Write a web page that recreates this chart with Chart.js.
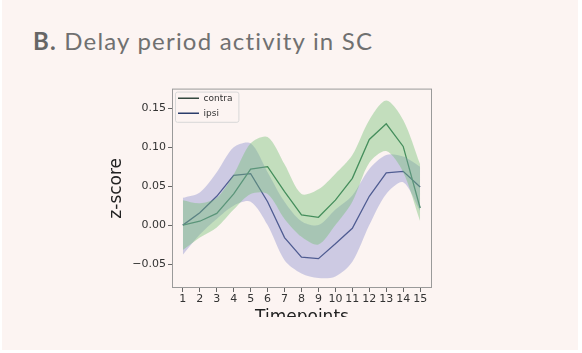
<!DOCTYPE html>
<html>
<head>
<meta charset="utf-8">
<script src="https://cdn.jsdelivr.net/npm/chart.js@4"></script>
<style>
  html, body { margin: 0; padding: 0; background: #ffffff; }
  #panel { position: absolute; left: 2px; top: 0; width: 576px; height: 350px; background: #fcf4f2; overflow: hidden; }
  #title { position: absolute; left: 31px; top: 26px; font-family: Lato, sans-serif; font-size: 24px; letter-spacing: 1.2px; color: #707070; white-space: nowrap; }
  #title b { font-weight: 700; color: #666; }
  #wrap { position: absolute; left: 98px; top: 80px; width: 345px; height: 237px; overflow: hidden; }
</style>
</head>
<body>
<div id="panel">
  <div id="title"><b>B.</b> Delay period activity in SC</div>
  <div id="wrap"><canvas id="chart" width="345" height="252"></canvas></div>
</div>
<script>
// timepoints 1..15
const timepoints = [1, 2, 3, 4, 5, 6, 7, 8, 9, 10, 11, 12, 13, 14, 15];
const yTicks = [-0.05, 0, 0.05, 0.10, 0.15];

// mean z-score per timepoint
const contraMean = [0.000, 0.005, 0.015, 0.040, 0.072, 0.075, 0.043, 0.013, 0.010, 0.032, 0.060, 0.110, 0.130, 0.101, 0.022];
const ipsiMean   = [0.000, 0.016, 0.037, 0.064, 0.066, 0.030, -0.016, -0.041, -0.043, -0.024, -0.004, 0.037, 0.067, 0.069, 0.049];

// shaded error bands
const contraUpper = [0.032, 0.028, 0.035, 0.065, 0.105, 0.113, 0.078, 0.040, 0.046, 0.066, 0.090, 0.135, 0.160, 0.135, 0.078];
const contraLower = [-0.032, -0.016, -0.003, 0.020, 0.040, 0.040, 0.008, -0.015, -0.025, 0.000, 0.030, 0.080, 0.095, 0.068, 0.005];
const ipsiUpper   = [0.035, 0.042, 0.068, 0.100, 0.105, 0.068, 0.030, 0.005, 0.000, 0.020, 0.038, 0.072, 0.090, 0.088, 0.075];
const ipsiLower   = [-0.038, -0.012, 0.008, 0.025, 0.030, 0.000, -0.045, -0.062, -0.068, -0.066, -0.047, 0.000, 0.040, 0.055, 0.018];

const contraLine = '#2a6e50', ipsiLine = '#2b3d6b';
const contraFill = 'rgba(110,190,110,0.4)', ipsiFill = 'rgba(135,140,205,0.4)';

const pts = arr => arr.map((v, i) => ({ x: timepoints[i], y: v }));

// frame all four sides like matplotlib spines + box round the legend
const framePlugin = {
    id: 'frame',
    afterDraw(c) {
        const a = c.chartArea, ctx = c.ctx;
        ctx.save();
        ctx.strokeStyle = '#9a9a9a';
        ctx.lineWidth = 1;
        ctx.strokeRect(a.left + 0.5, a.top + 0.5, a.right - a.left - 1, a.bottom - a.top - 1);
        const hb = c.legend && c.legend.legendHitBoxes;
        if (hb && hb.length) {
            const x0 = a.left + 3, y0 = a.top + 3;
            let x1 = 0, y1 = 0;
            hb.forEach(h => { x1 = Math.max(x1, h.left + h.width); y1 = Math.max(y1, h.top + h.height); });
            ctx.strokeStyle = '#d8d8d8';
            ctx.beginPath();
            ctx.roundRect(x0 + 0.5, y0 + 0.5, x1 - x0 + 6, y1 - y0 + 4, 2);
            ctx.stroke();
        }
        ctx.restore();
    }
};

chart = new Chart(document.getElementById('chart'), {
    type: 'line',
    data: {
        datasets: [
            { label: 'contraLo', data: pts(contraLower), borderWidth: 0, pointRadius: 0, fill: false, tension: 0.3 },
            { label: 'contraHi', data: pts(contraUpper), borderWidth: 0, pointRadius: 0, fill: '-1', backgroundColor: contraFill, tension: 0.3 },
            { label: 'ipsiLo', data: pts(ipsiLower), borderWidth: 0, pointRadius: 0, fill: false, tension: 0.3 },
            { label: 'ipsiHi', data: pts(ipsiUpper), borderWidth: 0, pointRadius: 0, fill: '-1', backgroundColor: ipsiFill, tension: 0.3 },
            { label: 'contra', data: pts(contraMean), borderColor: contraLine, borderWidth: 1.3, pointRadius: 0, fill: false },
            { label: 'ipsi', data: pts(ipsiMean), borderColor: ipsiLine, borderWidth: 1.3, pointRadius: 0, fill: false }
        ]
    },
    options: {
        responsive: false, animation: false,
        layout: { padding: { left: 0, right: 13, top: 5, bottom: 0 } },
        plugins: {
            tooltip: { enabled: false },
            legend: {
                position: 'chartArea', align: 'start',
                title: { display: true, text: ' ', font: { size: 4 }, padding: { top: 3, bottom: 0 } },
                labels: {
                    generateLabels: c => ['contra', 'ipsi'].map((t, k) => ({
                        text: t, fillStyle: k ? ipsiLine : '#34483e', strokeStyle: k ? ipsiLine : '#34483e',
                        lineWidth: 0, datasetIndex: 4 + k, fontColor: '#333'
                    })),
                    boxWidth: 21, boxHeight: 1.5, padding: 6,
                    font: { family: 'DejaVu Sans', size: 9 }, color: '#333'
                }
            }
        },
        scales: {
            x: {
                type: 'linear', min: 0.36, max: 15.7,
                afterBuildTicks: s => { s.ticks = timepoints.map(v => ({ value: v })); },
                afterFit: s => { s.height = 44; },
                grid: { drawOnChartArea: false, drawTicks: true, tickLength: 4, color: '#666' },
                border: { display: false },
                ticks: { color: '#333', font: { family: 'DejaVu Sans', size: 11 }, padding: 1, maxRotation: 0, autoSkip: false },
                title: { display: true, text: 'Timepoints', color: '#222', font: { family: 'DejaVu Sans', size: 17 }, padding: { top: 0 } }
            },
            y: {
                min: -0.0807, max: 0.1752,
                afterBuildTicks: s => { s.ticks = yTicks.map(v => ({ value: v })); },
                afterFit: s => { s.width = 72; },
                grid: { drawOnChartArea: false, drawTicks: true, tickLength: 4, color: '#666' },
                border: { display: false },
                ticks: {
                    color: '#333', font: { family: 'DejaVu Sans', size: 11 }, padding: 2,
                    callback: v => (v < 0 ? '\u2212' : '') + Math.abs(v).toFixed(2)
                },
                title: { display: true, text: 'z-score', color: '#222', font: { family: 'DejaVu Sans', size: 17 }, padding: { top: 6, bottom: 4 } }
            }
        }
    },
    plugins: [framePlugin]
});
</script>
</body>
</html>
